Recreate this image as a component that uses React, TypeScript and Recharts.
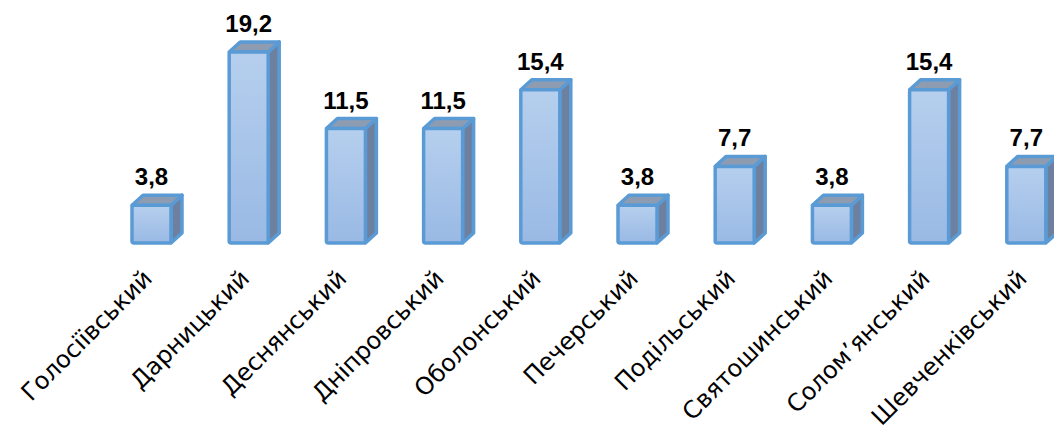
import { BarChart, Bar, XAxis, YAxis, LabelList } from "recharts";

const districts = [
  "Голосіївський",
  "Дарницький",
  "Деснянський",
  "Дніпровський",
  "Оболонський",
  "Печерський",
  "Подільський",
  "Святошинський",
  "Солом’янський",
  "Шевченківський",
];
const shares = [3.8, 19.2, 11.5, 11.5, 15.4, 3.8, 7.7, 3.8, 15.4, 7.7];

const data = districts.map((name, i) => ({ name, value: shares[i] }));

const DX = 11;
const DY = 10;
const EDGE = "#5b9bd5";

function Bar3D(props: any) {
  const { x, y, width: w, height: h } = props;
  if (!h || h <= 0) return null;
  const top = `${x},${y} ${x + DX},${y - DY} ${x + w + DX},${y - DY} ${x + w},${y}`;
  const side = `${x + w},${y} ${x + w + DX},${y - DY} ${x + w + DX},${y + h - DY} ${x + w},${y + h}`;
  return (
    <g strokeLinejoin="round" stroke={EDGE} strokeWidth={3.5}>
      <polygon points={side} fill="#6e80a0" />
      <polygon points={top} fill="#8e9cb2" />
      <rect x={x} y={y} width={w} height={h} fill="url(#frontGrad)" rx={2} />
    </g>
  );
}

function ValueLabel(props: any) {
  const { x, y, width, value } = props;
  return (
    <text
      x={x + width / 2}
      y={y - 20}
      textAnchor="middle"
      fontFamily="'Liberation Sans', Arial, sans-serif"
      fontWeight="bold"
      fontSize={24}
      fill="#000"
    >
      {String(value).replace(".", ",")}
    </text>
  );
}

function DistrictTick(props: any) {
  const { x, payload } = props;
  const tx = x + 2;
  const ty = 280;
  return (
    <text
      x={tx}
      y={ty}
      transform={`rotate(-45, ${tx}, ${ty})`}
      textAnchor="end"
      fontFamily="'DejaVu Sans', sans-serif"
      fontSize={24}
      fill="#000"
    >
      {payload.value}
    </text>
  );
}

export default function App() {
  return (
    <div
      style={{
        position: "fixed",
        left: 0,
        top: 0,
        width: 1054,
        height: 432,
        overflow: "hidden",
        background: "#fff",
      }}
    >
      <BarChart
        width={1100}
        height={432}
        data={data}
        margin={{ top: 44, left: 103, right: 25, bottom: 0 }}
        barSize={39}
      >
        <defs>
          <linearGradient id="frontGrad" x1="0" y1="0" x2="0" y2="1">
            <stop offset="0%" stopColor="#b6cfee" />
            <stop offset="100%" stopColor="#99b9e4" />
          </linearGradient>
        </defs>
        <XAxis
          dataKey="name"
          height={189}
          axisLine={false}
          tickLine={false}
          interval={0}
          tick={<DistrictTick />}
        />
        <YAxis hide domain={[0, 20]} />
        <Bar dataKey="value" shape={<Bar3D />} isAnimationActive={false}>
          <LabelList dataKey="value" content={<ValueLabel />} />
        </Bar>
      </BarChart>
    </div>
  );
}
